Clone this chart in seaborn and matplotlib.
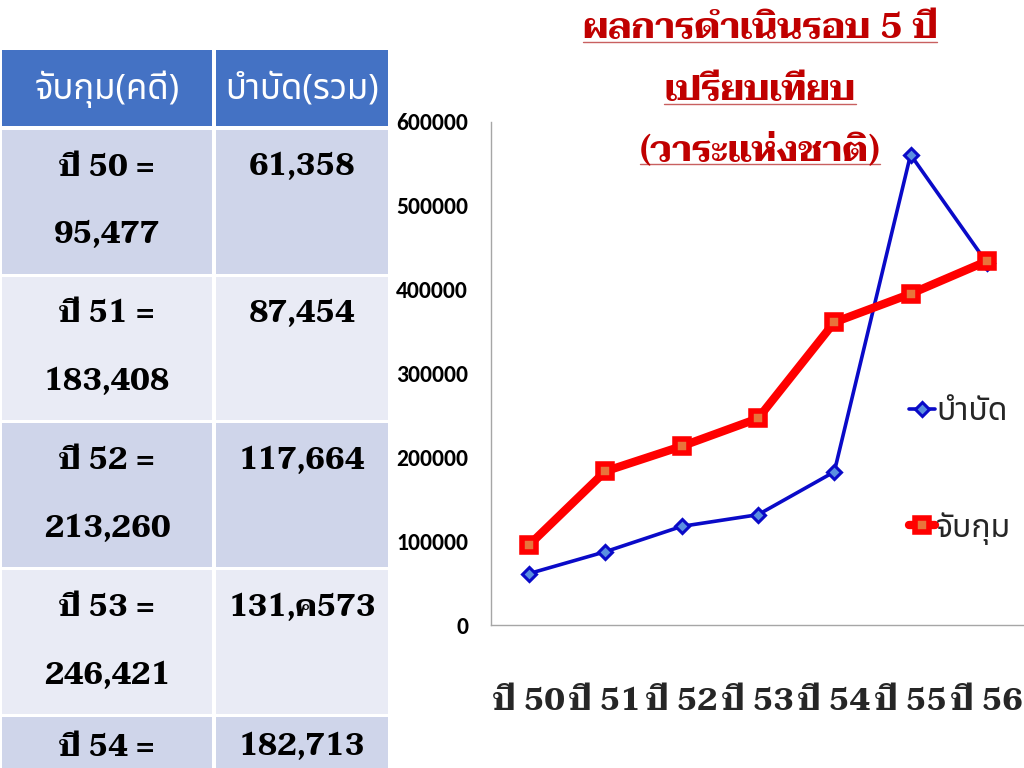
import matplotlib
matplotlib.use("Agg")
import numpy as np
import pandas as pd
import seaborn as sns
import matplotlib.pyplot as plt
from matplotlib.patches import Rectangle
from matplotlib.lines import Line2D
from matplotlib.ticker import FuncFormatter

# ---------------- data ----------------
years = ['ปี 50', 'ปี 51', 'ปี 52', 'ปี 53', 'ปี 54', 'ปี 55', 'ปี 56']
treat = [61358, 87454, 117664, 131573, 182713, 561000, 432000]      # บำบัด
arrest = [95477, 183408, 213260, 246421, 361000, 395000, 434000]    # จับกุม
series_names = ['บำบัด', 'จับกุม']
y_ticks = [0, 100000, 200000, 300000, 400000, 500000, 600000]

table_header = ['จับกุม(คดี)', 'บำบัด(รวม)']
table_year = ['ปี 50 =', 'ปี 51 =', 'ปี 52 =', 'ปี 53 =', 'ปี 54 =']
table_arrest = ['95,477', '183,408', '213,260', '246,421', '']
table_treat = ['61,358', '87,454', '117,664', '131,ค573', '182,713']

title_lines = ['ผลการดำเนินรอบ 5 ปี', 'เปรียบเทียบ', '(วาระแห่งชาติ)']

# ---------------- style ----------------
sns.set_theme(style="white")
plt.rcParams['font.family'] = ['Noto Sans Thai', 'DejaVu Sans']
SLAB = ['Taviraj', 'DejaVu Serif']
SANS = ['Noto Sans Thai', 'DejaVu Sans']

W, H = 1024, 768
fig = plt.figure(figsize=(W / 100, H / 100), dpi=100)
fig.patch.set_facecolor('white')

# ---------------- table (left) ----------------
tab = fig.add_axes([0, 0, 1, 1])
tab.set_xlim(0, W)
tab.set_ylim(H, 0)
tab.axis('off')
tab.set_zorder(0)

col_x = [(2, 212), (216, 388)]
head_top, head_bot = 50, 126
for (x0, x1), label in zip(col_x, table_header):
    tab.add_patch(Rectangle((x0, head_top), x1 - x0, head_bot - head_top,
                            facecolor='#4472C4', edgecolor='none'))
    tab.text((x0 + x1) / 2, (head_top + head_bot) / 2 + 1, label, ha='center', va='center',
             color='white', fontsize=25, family=SANS, weight='semibold')

row_colors = ['#CFD5EA', '#E9EBF5']
row_h = 146.7
for i, (yl, ar, tr) in enumerate(zip(table_year, table_arrest, table_treat)):
    top = 130 + i * row_h
    for (x0, x1) in col_x:
        tab.add_patch(Rectangle((x0, top), x1 - x0, row_h - 3,
                                facecolor=row_colors[i % 2], edgecolor='none'))
    cx1 = sum(col_x[0]) / 2
    cx2 = sum(col_x[1]) / 2
    ty = min(top + 38, 748)
    tab.text(cx1, ty, yl, ha='center', va='center', fontsize=22,
             family=SLAB, weight='bold', color='black')
    if ar:
        tab.text(cx1, top + 106, ar, ha='center', va='center', fontsize=22,
                 family=SLAB, weight='bold', color='black')
    tab.text(cx2, ty, tr, ha='center', va='center', fontsize=22,
             family=SLAB, weight='bold', color='black')

# ---------------- line chart ----------------
ax = fig.add_axes([491 / W, (H - 625) / H, 534 / W, 503 / H])
ax.set_zorder(2)
ax.patch.set_alpha(0)

sns.lineplot(x=years, y=treat, ax=ax, sort=False, color='#0A0AC8', lw=2.6,
             marker='D', markersize=7, markerfacecolor='#5B8FE0',
             markeredgecolor='#0A0AC8', markeredgewidth=2.2,
             label=series_names[0], zorder=3)
sns.lineplot(x=years, y=arrest, ax=ax, sort=False, color='#FF0000', lw=6,
             marker='s', markersize=10, markerfacecolor='#E8743B',
             markeredgecolor='#FF0000', markeredgewidth=4,
             label=series_names[1], zorder=4)

n = len(years)
ax.set_xlim(-0.5, n - 0.5)
ax.set_ylim(y_ticks[0], y_ticks[-1])
ax.set_xticks(range(n))
ax.set_xticklabels(years, family=SLAB, weight='bold', fontsize=23)
ax.set_xticks(np.arange(-0.5, n, 1), minor=True)
ax.tick_params(axis='x', which='major', length=0, pad=45)
ax.tick_params(axis='x', which='minor', length=6, width=1, color='#A6A6A6', direction='out')
ax.set_yticks(y_ticks)
ax.yaxis.set_major_formatter(FuncFormatter(lambda v, p: f"{int(v)}"))
ax.tick_params(axis='y', length=5.5, width=1, color='#A6A6A6', direction='out', pad=11)
for lab in ax.get_yticklabels():
    lab.set_family(['Carlito', 'DejaVu Sans'])
    lab.set_weight('bold')
    lab.set_fontsize(17)
    lab.set_color('black')
for s in ['top', 'right']:
    ax.spines[s].set_visible(False)
for s in ['left', 'bottom']:
    ax.spines[s].set_color('#A6A6A6')
    ax.spines[s].set_linewidth(1)
ax.set_xlabel('')
ax.set_ylabel('')
ax.grid(False)

leg = ax.legend(loc='center left', bbox_to_anchor=(893 / W, 1 - 470 / H),
                bbox_transform=fig.transFigure, frameon=False,
                prop={'family': SANS, 'size': 23, 'weight': 'medium'}, labelspacing=2.6,
                handlelength=0.8, handletextpad=0.05, borderpad=0)

# ---------------- title with underline ----------------
title_base = [38, 100, 160]
title_objs = []
for txt, yb in zip(title_lines, title_base):
    t = fig.text(760 / W, 1 - yb / H, txt, ha='center', va='baseline',
                 color='#C00000', fontsize=26, family=SLAB, weight='bold', zorder=5)
    title_objs.append((t, yb))

fig.canvas.draw()
r = fig.canvas.get_renderer()
for t, yb in title_objs:
    bb = t.get_window_extent(renderer=r)
    yy = 1 - (yb + 4) / H
    fig.add_artist(Line2D([bb.x0 / W, bb.x1 / W], [yy, yy], transform=fig.transFigure,
                          color='#C86060', lw=1.0, zorder=5))

fig.savefig("out.png", dpi=100)
